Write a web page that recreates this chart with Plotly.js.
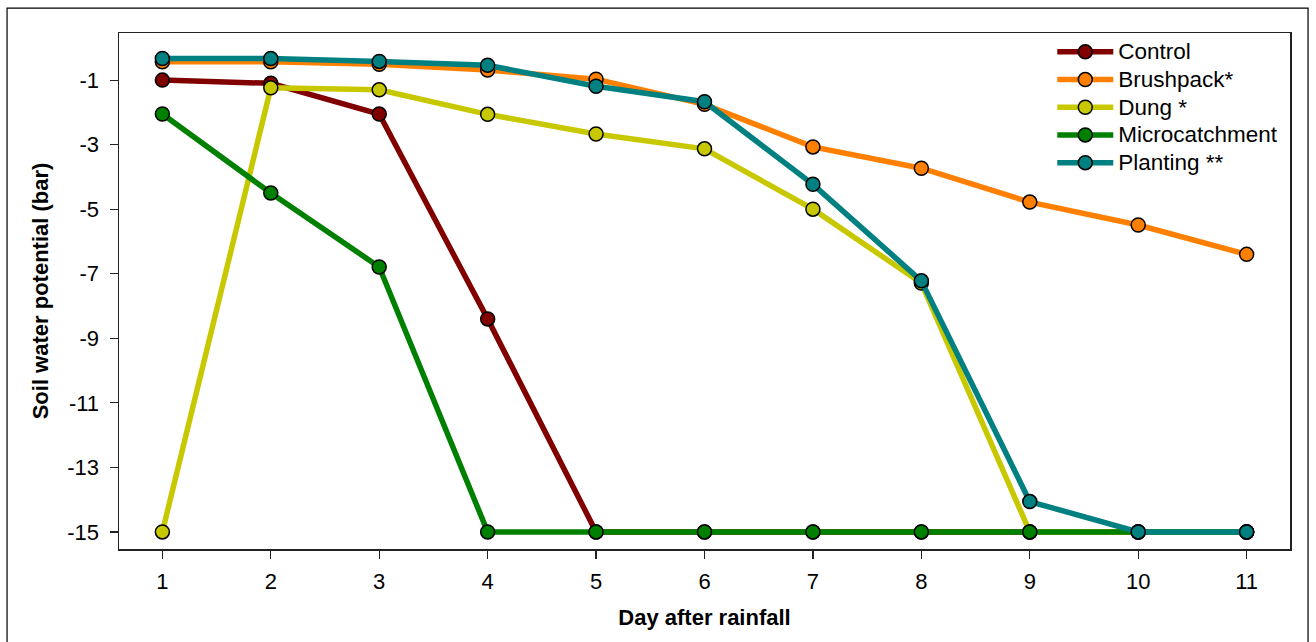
<!DOCTYPE html>
<html>
<head>
<meta charset="utf-8">
<script src="https://cdn.plot.ly/plotly-3.0.1.min.js"></script>
<style>
  html, body { margin: 0; padding: 0; background: #fff; }
  #chart { width: 1316px; height: 642px; }
</style>
</head>
<body>
<div id="chart"></div>
<script>
const days = [1, 2, 3, 4, 5, 6, 7, 8, 9, 10, 11];
const seriesNames = ["Control", "Brushpack*", "Dung *", "Microcatchment", "Planting **"];
const control        = [-1.0, -1.1, -2.05, -8.4, -15, -15, -15, -15, -15, -15, -15];
const brushpack      = [-0.43, -0.43, -0.51, -0.69, -0.97, -1.75, -3.07, -3.73, -4.78, -5.49, -6.4];
const dung           = [-15, -1.24, -1.3, -2.06, -2.67, -3.13, -5.0, -7.29, -15, -15, -15];
const microcatchment = [-2.05, -4.5, -6.79, -15, -15, -15, -15, -15, -15, -15, -15];
const planting       = [-0.33, -0.33, -0.42, -0.54, -1.19, -1.67, -4.23, -7.22, -14.06, -15, -15];
const yTicks = [-1, -3, -5, -7, -9, -11, -13, -15];

const seriesValues = [control, brushpack, dung, microcatchment, planting];
const colors = ["#800000", "#FF8000", "#C8C800", "#008000", "#008080"];

const traces = seriesValues.map((vals, i) => ({
  x: days,
  y: vals,
  name: '<span style="font-size:22.5px">' + seriesNames[i] + '</span>',
  type: "scatter",
  mode: "lines+markers",
  line: { color: colors[i], width: 5.5 },
  marker: { color: colors[i], size: 14, line: { color: "#000", width: 1.5 } }
}));

const fam = "Liberation Sans, Arial, sans-serif";
const font = { family: fam, size: 22, color: "#000" };

const layout = {
  width: 1316,
  height: 642,
  margin: { l: 119, r: 26, t: 33, b: 93 },
  paper_bgcolor: "#fff",
  plot_bgcolor: "#fff",
  font: font,
  showlegend: true,
  legend: {
    x: 0.797, y: 1.0, xanchor: "left", yanchor: "top",
    bgcolor: "rgba(0,0,0,0)", borderwidth: 0,
    itemwidth: 56,
    font: { family: fam, size: 19, color: "#000" }
  },
  xaxis: {
    range: [0.6, 11.4],
    tickvals: days,
    ticktext: days.map(String),
    ticks: "outside", ticklen: 8, tickwidth: 1.2, tickcolor: "#222",
    ticklabelstandoff: 4,
    showline: true, linecolor: "#222", linewidth: 1.5, mirror: true,
    showgrid: false, zeroline: false,
    tickfont: { family: fam, size: 22, color: "#000" },
    title: { text: "<b>Day after rainfall</b>", font: { family: fam, size: 22, color: "#000" }, standoff: 16 }
  },
  yaxis: {
    range: [-15.53, 0.46],
    tickvals: yTicks,
    ticktext: yTicks.map(String),
    ticks: "outside", ticklen: 8, tickwidth: 1.2, tickcolor: "#222",
    ticklabelstandoff: 6,
    showline: true, linecolor: "#222", linewidth: 1.5, mirror: true,
    showgrid: false, zeroline: false,
    tickfont: { family: fam, size: 22, color: "#000" },
    title: { text: "<b>Soil water potential (bar)</b>", font: { family: fam, size: 22, color: "#000" }, standoff: 12 }
  },
  shapes: [{
    type: "rect", xref: "paper", yref: "paper",
    x0: -0.0956, x1: 1.0154, y0: -0.19, y1: 1.0484,
    line: { color: "#000", width: 1.2 }, fillcolor: "rgba(0,0,0,0)", layer: "below"
  }]
};

Plotly.newPlot("chart", traces, layout, { displayModeBar: false, staticPlot: true });
</script>
</body>
</html>
